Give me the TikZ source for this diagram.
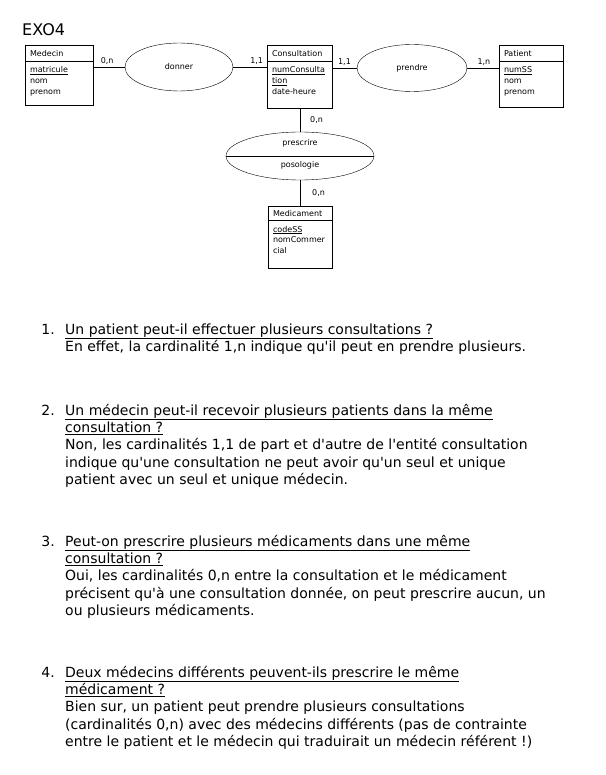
\documentclass[tikz,border=0pt]{standalone}
\usepackage{fontspec}
\setmainfont{DejaVu Sans}
\usetikzlibrary{shapes.geometric, positioning, calc}

\tikzset{
    % Entity box style
    entity/.style={
        rectangle,
        draw=black,
        minimum width=65pt,
        minimum height=62pt,
        inner sep=0pt
    },
    % Association style
    assoc/.style={
        ellipse,
        draw=black,
        inner sep=0pt,
        font=\fontsize{8}{10}\selectfont
    },
    % Small diagram text
    mcd/.style={
        inner sep=0pt,
        align=left,
        font=\fontsize{8}{10.8}\selectfont
    },
    % Cardinality label
    card/.style={
        inner sep=0pt,
        font=\fontsize{8}{10}\selectfont
    },
    % Question text
    item/.style={
        inner sep=0pt,
        font=\fontsize{14}{17.4}\selectfont
    }
}

\begin{document}
\begin{tikzpicture}[x=1pt, y=-1pt]
    \useasboundingbox (0,0) rectangle (605,775);

    \node[anchor=base west, inner sep=0pt, font=\fontsize{16}{18}\selectfont] (title) at (22,36) {EXO4};

    % Entities
    \node (med) [entity, minimum width=68pt, minimum height=60pt] at (59,75) {};
    \node (medT) [mcd, anchor=base west] at ($(med.north west)+(5pt,-12pt)$) {Medecin};
    \draw ($(med.north west)+(0,-16pt)$) -- ($(med.north east)+(0,-16pt)$);
    \node (medA) [mcd, anchor=north west] at ($(med.north west)+(5pt,-21.5pt)$) {\underline{matricule}\\nom\\prenom};

    \node (con) [entity, minimum height=63pt] at (299.5,76.5) {};
    \node (conT) [mcd, anchor=base west] at ($(con.north west)+(5pt,-12pt)$) {Consultation};
    \draw ($(con.north west)+(0,-16pt)$) -- ($(con.north east)+(0,-16pt)$);
    \node (conA) [mcd, anchor=north west] at ($(con.north west)+(5pt,-21.5pt)$) {\underline{numConsulta}\\\underline{tion}\\date-heure};

    \node (pat) [entity, minimum width=64pt] at (531,76) {};
    \node (patT) [mcd, anchor=base west] at ($(pat.north west)+(5pt,-12pt)$) {Patient};
    \draw ($(pat.north west)+(0,-16pt)$) -- ($(pat.north east)+(0,-16pt)$);
    \node (patA) [mcd, anchor=north west] at ($(pat.north west)+(5pt,-21.5pt)$) {\underline{numSS}\\nom\\prenom};

    \node (medi) [entity, minimum width=64pt] at (300,237) {};
    \node (mediT) [mcd, anchor=base west] at ($(medi.north west)+(5pt,-11pt)$) {Medicament};
    \draw ($(medi.north west)+(0,-14pt)$) -- ($(medi.north east)+(0,-14pt)$);
    \node (mediA) [mcd, anchor=north west] at ($(medi.north west)+(5pt,-20pt)$) {\underline{codeSS}\\nomCommer\\cial};

    % Associations
    \node (don) [assoc, minimum width=108pt, minimum height=48pt] at (179,67) {donner};
    \node (pre) [assoc, minimum width=110pt, minimum height=47pt] at (412,68) {prendre};
    \node (pres) [assoc, minimum width=148pt, minimum height=48pt] at (300,156) {};
    \draw (pres.west) -- (pres.east);
    \node (presT) [card] at ($(pres.center)+(0,12.5pt)$) {prescrire};
    \node (presP) [card] at ($(pres.center)+(0,-9.5pt)$) {posologie};

    % Links
    \draw (med.east |- don.west) -- node[card, pos=0.44, above=2pt] {0,n} (don.west);
    \draw (don.east) -- node[card, pos=0.7, above=2pt] {1,1} (con.west |- don.east);
    \draw (con.east |- pre.west) -- node[card, pos=0.5, above=2pt] {1,1} (pre.west);
    \draw (pre.east) -- node[card, pos=0.53, above=2pt] {1,n} (pat.west |- pre.east);
    \draw (con.south -| pres.north) -- node[card, right=10pt] {0,n} (pres.north);
    \draw (pres.south) -- node[card, right=12pt] {0,n} (medi.north);

    % Questions
    \node (n1) [item, anchor=base east] at (55,334) {1.};
    \node (q1) [item, right=10pt of n1.base east, anchor=base west] {\parbox[t]{530pt}{%
        \underline{Un patient peut-il effectuer plusieurs consultations ?}\\
        En effet, la cardinalité 1,n indique qu\textquotesingle il peut en prendre plusieurs.}};

    \node (n2) [item, anchor=base east] at (55,415) {2.};
    \node (q2) [item, right=10pt of n2.base east, anchor=base west] {\parbox[t]{530pt}{%
        \underline{Un médecin peut-il recevoir plusieurs patients dans la même}\\
        \underline{consultation ?}\\
        Non, les cardinalités 1,1 de part et d\textquotesingle autre de l\textquotesingle entité consultation\\
        indique qu\textquotesingle une consultation ne peut avoir qu\textquotesingle un seul et unique\\
        patient avec un seul et unique médecin.}};

    \node (n3) [item, anchor=base east] at (55,546) {3.};
    \node (q3) [item, right=10pt of n3.base east, anchor=base west] {\parbox[t]{530pt}{%
        \underline{Peut-on prescrire plusieurs médicaments dans une même}\\
        \underline{consultation ?}\\
        Oui, les cardinalités 0,n entre la consultation et le médicament\\
        précisent qu\textquotesingle à une consultation donnée, on peut prescrire aucun, un\\
        ou plusieurs médicaments.}};

    \node (n4) [item, anchor=base east] at (55,677) {4.};
    \node (q4) [item, right=10pt of n4.base east, anchor=base west] {\parbox[t]{530pt}{%
        \underline{Deux médecins différents peuvent-ils prescrire le même}\\
        \underline{médicament ?}\\
        Bien sur, un patient peut prendre plusieurs consultations\\
        (cardinalités 0,n) avec des médecins différents (pas de contrainte\\
        entre le patient et le médecin qui traduirait un médecin référent !)}};
\end{tikzpicture}
\end{document}
